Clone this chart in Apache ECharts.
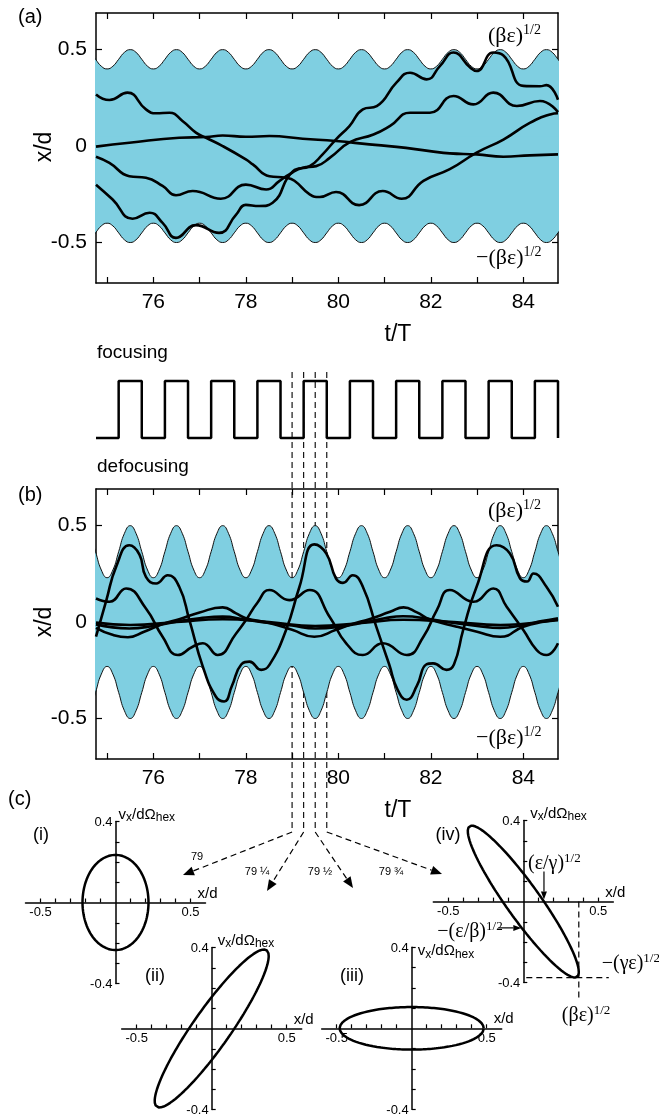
<!DOCTYPE html>
<html>
<head>
<meta charset="utf-8">
<script src="https://cdn.jsdelivr.net/npm/echarts@6.0.0/dist/echarts.min.js"></script>
<style>
  html, body { margin: 0; padding: 0; background: #fff; }
  #chart { width: 659px; height: 1119px; }
</style>
</head>
<body>
<div id="chart"></div>
<script>
// ---- time axis (t in units of the lattice period T) ----
const tMin = 74.76;
const tMax = 84.75;
const timeTicks = [75, 76, 77, 78, 79, 80, 81, 82, 83, 84];
const timeLabels = [76, 78, 80, 82, 84];
const xdTicks = [-0.5, -0.25, 0, 0.25, 0.5];
const xdLabels = [-0.5, 0, 0.5];

// beam envelope (βε)^1/2 over one lattice period, sampled every T/8 from a maximum (t = n + 1/2)
const envelopePeriodA = [0.5, 0.486, 0.45, 0.414, 0.4, 0.414, 0.45, 0.486];
const envelopePeriodB = [0.5, 0.46, 0.365, 0.27, 0.23, 0.27, 0.365, 0.46];

// (a) particle orbits, [t/T, x/d]
const orbitA1 = [[74.76,0.268],[75.05,0.239],[75.44,0.277],[75.84,0.19],[76.06,0.17],[76.35,0.173],[76.63,0.13],[76.92,0.07],[77.14,0.043],[77.5,0.0],[78.0,-0.069],[78.15,-0.095],[78.51,-0.156],[78.87,-0.164],[79.05,-0.18],[79.38,-0.25],[79.6,-0.264],[79.95,-0.238],[80.45,-0.306],[80.96,-0.233],[81.37,-0.273],[81.84,-0.18],[82.41,-0.12],[82.99,-0.034],[83.57,0.034],[84.14,0.12],[84.58,0.164],[84.75,0.17]];
const orbitA2 = [[74.76,-0.003],[75.48,0.017],[76.56,0.043],[77.14,0.047],[77.5,0.055],[78.0,0.048],[78.51,0.052],[79.23,0.038],[79.95,0.026],[80.67,0.009],[81.26,-0.004],[81.98,-0.026],[82.41,-0.038],[82.99,-0.043],[83.57,-0.055],[84.14,-0.048],[84.75,-0.043]];
const orbitA3 = [[74.76,-0.055],[75.05,-0.087],[75.48,-0.156],[75.84,-0.164],[76.2,-0.207],[76.49,-0.255],[76.85,-0.233],[77.46,-0.273],[78.0,-0.2],[78.44,-0.225],[78.73,-0.18],[78.94,-0.147],[79.23,-0.112],[79.52,-0.104],[79.82,-0.06],[80.25,0.02],[80.76,0.06],[81.12,0.105],[81.55,0.173],[81.98,0.173],[82.49,0.26],[82.92,0.216],[83.35,0.277],[83.86,0.208],[84.36,0.234],[84.75,0.176]];
const orbitA4 = [[74.76,-0.2],[75.12,-0.277],[75.55,-0.377],[75.92,-0.346],[76.2,-0.398],[76.49,-0.476],[76.92,-0.41],[77.42,-0.45],[77.79,-0.355],[78.0,-0.305],[78.29,-0.311],[78.58,-0.294],[79.02,-0.13],[79.38,-0.104],[79.66,-0.043],[79.95,0.035],[80.24,0.104],[80.53,0.19],[80.83,0.207],[81.26,0.33],[81.55,0.38],[81.91,0.346],[82.2,0.416],[82.49,0.485],[82.85,0.407],[82.99,0.389],[83.35,0.485],[83.57,0.47],[84.0,0.312],[84.36,0.31],[84.5,0.316],[84.75,0.24]];

// (b) particle orbits, [t/T, x/d]
const orbitB1 = [[74.76,-0.076],[74.98,0.11],[75.2,0.29],[75.48,0.398],[75.7,0.35],[75.84,0.234],[76.06,0.2],[76.31,0.243],[76.56,0.183],[76.78,0.01],[77.07,-0.231],[77.35,-0.386],[77.53,-0.412],[77.7,-0.33],[77.9,-0.22],[78.08,-0.205],[78.33,-0.248],[78.51,-0.222],[78.87,-0.041],[79.16,0.183],[79.48,0.403],[79.74,0.355],[79.95,0.226],[80.1,0.203],[80.31,0.243],[80.53,0.183],[80.82,-0.024],[81.1,-0.22],[81.28,-0.35],[81.48,-0.403],[81.7,-0.33],[81.9,-0.22],[82.05,-0.214],[82.34,-0.248],[82.5,-0.22],[82.7,-0.041],[82.99,0.183],[83.42,0.398],[83.71,0.355],[83.93,0.226],[84.08,0.21],[84.22,0.252],[84.5,0.183],[84.75,0.079]];
const orbitB2 = [[74.76,0.122],[75.05,0.105],[75.41,0.174],[75.84,0.07],[76.2,-0.076],[76.53,-0.171],[76.85,-0.128],[77.07,-0.11],[77.39,-0.171],[77.79,-0.059],[78.0,0.01],[78.25,0.1],[78.51,0.166],[78.94,0.114],[79.38,0.166],[79.81,0.028],[80.17,-0.11],[80.53,-0.171],[80.96,-0.11],[81.48,-0.171],[81.84,-0.076],[82.13,0.062],[82.41,0.166],[82.92,0.105],[83.35,0.174],[83.64,0.079],[84.0,-0.041],[84.29,-0.145],[84.5,-0.171],[84.75,-0.11]];
const orbitB3 = [[74.76,-0.03],[75.1,-0.065],[75.45,-0.079],[75.8,-0.05],[76.2,-0.01],[76.56,0.015],[77.0,0.05],[77.5,0.076],[77.79,0.045],[78.0,0.02],[78.51,-0.005],[79.0,-0.04],[79.48,-0.076],[79.95,-0.04],[80.3,-0.01],[80.67,0.015],[81.12,0.053],[81.41,0.076],[81.7,0.05],[81.98,0.014],[82.56,-0.024],[83.0,-0.05],[83.5,-0.076],[84.0,-0.024],[84.4,0.0],[84.75,0.01]];
const orbitB4 = [[74.76,-0.012],[75.48,-0.033],[76.0,-0.02],[76.56,0.005],[77.0,0.02],[77.5,0.028],[78.0,0.012],[78.5,-0.005],[79.0,-0.018],[79.5,-0.033],[80.0,-0.025],[80.6,0.0],[81.0,0.02],[81.4,0.03],[82.0,0.015],[82.5,-0.005],[83.0,-0.02],[83.5,-0.03],[84.0,-0.015],[84.4,0.005],[84.75,0.02]];
const orbitB5 = [[74.76,-0.003],[75.5,-0.015],[76.5,0.0],[77.5,0.015],[78.5,0.0],[79.5,-0.02],[80.5,-0.005],[81.4,0.012],[82.5,0.0],[83.5,-0.015],[84.75,0.015]];

// focusing phases of the quadrupole drive
const focusOn  = [75.25, 76.25, 77.25, 78.25, 79.25, 80.25, 81.25, 82.25, 83.25, 84.25];
const focusOff = [75.75, 76.75, 77.75, 78.75, 79.75, 80.75, 81.75, 82.75, 83.75, 84.75];

// phase-space snapshots (c): emittance ellipses x = X cos θ, v = V cos(θ − φ)
const snapshotTimes  = [79, 79.25, 79.5, 79.75];
const snapshotLabels = ['79', '79 ¼', '79 ½', '79 ¾'];
const panelNames     = ['(i)', '(ii)', '(iii)', '(iv)'];
const ellipseXMax  = [0.22, 0.38, 0.48, 0.37];
const ellipseVMax  = [0.235, 0.39, 0.105, 0.375];
const ellipsePhase = [1.571, 0.41, 1.571, 2.76];
const phaseXTicks  = [-0.5, -0.4, -0.3, -0.2, -0.1, 0.1, 0.2, 0.3, 0.4, 0.5];
const phaseYTicks  = [-0.4, -0.3, -0.2, -0.1, 0.1, 0.2, 0.3, 0.4];
const phaseXLabels = [-0.5, 0.5];
const phaseYLabels = [-0.4, 0.4];

const FONT = 'Liberation Sans';
const SERIF = 'Liberation Serif';
const FILL = '#7fcfe1';

function envelopePoints(profile, sign) {
  const pts = [];
  const t0 = Math.floor(tMin - 0.5) + 0.5;
  for (let k = 0; ; k++) {
    const t = t0 + k / profile.length;
    pts.push([t, sign * profile[k % profile.length]]);
    if (t > tMax + 0.2) break;
  }
  return pts;
}

function ellipsePoints(X, V, phi) {
  const pts = [];
  for (let k = 0; k <= 200; k++) {
    const th = 2 * Math.PI * k / 200;
    pts.push([X * Math.cos(th), V * Math.cos(th - phi)]);
  }
  return pts;
}

const drive = [[tMin, 0]];
focusOn.forEach((t, i) => { drive.push([t, 1]); drive.push([focusOff[i], 0]); });

const frame = { onZero: false, lineStyle: { color: '#000', width: 1.5 } };
const tickStyle = { color: '#000', width: 1.2 };

function timeAxis(gridIndex, position, labels) {
  return {
    type: 'value', gridIndex, position, min: tMin, max: tMax,
    axisLine: frame, splitLine: { show: false },
    axisTick: { inside: true, length: 6, customValues: timeTicks, lineStyle: tickStyle },
    axisLabel: labels ? { customValues: timeLabels, fontFamily: FONT, fontSize: 21, color: '#000', margin: 9 } : { show: false }
  };
}
function xdAxis(gridIndex, position, labels) {
  return {
    type: 'value', gridIndex, position, min: -0.71, max: 0.69,
    axisLine: frame, splitLine: { show: false },
    axisTick: { inside: true, length: 6, customValues: xdTicks, lineStyle: tickStyle },
    axisLabel: labels ? { customValues: xdLabels, formatter: v => (v === 0 ? '0' : String(v)),
      fontFamily: FONT, fontSize: 21, color: '#000', margin: 9 } : { show: false }
  };
}
function phaseX(gridIndex) {
  return {
    type: 'value', gridIndex, min: -0.6, max: 0.6,
    axisLine: { onZero: true, lineStyle: { color: '#000', width: 1.5 } }, splitLine: { show: false },
    axisTick: { inside: true, length: 4, customValues: phaseXTicks, lineStyle: tickStyle },
    axisLabel: { show: false }
  };
}
function phaseY(gridIndex) {
  return {
    type: 'value', gridIndex, min: -0.4, max: 0.4,
    axisLine: { onZero: true, lineStyle: { color: '#000', width: 1.5 } }, splitLine: { show: false },
    axisTick: { inside: true, length: 4, customValues: phaseYTicks, lineStyle: tickStyle },
    axisLabel: { show: false }
  };
}

const gridBox = (left, top, width, height) => ({ left, top, width, height, outerBoundsMode: 'none', containLabel: false });
const grids = [
  gridBox(96, 13, 462, 270),        // (a)
  gridBox(96, 381, 462, 57),        // focusing / defocusing drive
  gridBox(96, 489, 462, 270),       // (b)
  gridBox(25.5, 821.5, 180, 162),   // (i)
  gridBox(121.7, 947.5, 180, 162),  // (ii)
  gridBox(321.7, 947.3, 180, 162),  // (iii)
  gridBox(433.3, 820.6, 180, 162)   // (iv)
];

const xAxes = [
  timeAxis(0, 'bottom', true), timeAxis(0, 'top', false),
  { type: 'value', gridIndex: 1, min: tMin, max: tMax, show: false },
  timeAxis(2, 'bottom', true), timeAxis(2, 'top', false),
  phaseX(3), phaseX(4), phaseX(5), phaseX(6)
];
const yAxes = [
  xdAxis(0, 'left', true), xdAxis(0, 'right', false),
  { type: 'value', gridIndex: 1, min: 0, max: 1, show: false },
  xdAxis(2, 'left', true), xdAxis(2, 'right', false),
  phaseY(3), phaseY(4), phaseY(5), phaseY(6)
];

function envelopeSeries(axis, profile, sign) {
  return {
    type: 'line', xAxisIndex: axis, yAxisIndex: axis, data: envelopePoints(profile, sign),
    smooth: 0.5, symbol: 'none', z: 2, silent: true,
    lineStyle: { color: '#111', width: 1 },
    areaStyle: { color: FILL, opacity: 1, origin: -sign * 0.05 }
  };
}
function orbitSeries(axis, data) {
  return {
    type: 'line', xAxisIndex: axis, yAxisIndex: axis, data,
    smooth: 0.5, symbol: 'none', z: 4, silent: true,
    lineStyle: { color: '#000', width: 2.6 }
  };
}

const series = [
  envelopeSeries(0, envelopePeriodA, 1), envelopeSeries(0, envelopePeriodA, -1),
  ...[orbitA1, orbitA2, orbitA3, orbitA4].map(d => orbitSeries(0, d)),
  { type: 'line', xAxisIndex: 2, yAxisIndex: 2, data: drive, step: 'end', symbol: 'none', clip: false,
    lineStyle: { color: '#000', width: 2.5 }, z: 4 },
  envelopeSeries(3, envelopePeriodB, 1), envelopeSeries(3, envelopePeriodB, -1),
  ...[orbitB1, orbitB2, orbitB3, orbitB4, orbitB5].map(d => orbitSeries(3, d))
];
ellipseXMax.forEach((X, i) => {
  series.push({
    type: 'line', xAxisIndex: 5 + i, yAxisIndex: 5 + i,
    data: ellipsePoints(X, ellipseVMax[i], ellipsePhase[i]),
    symbol: 'none', clip: false, z: 4, lineStyle: { color: '#000', width: 2.5 }
  });
});
// guides at the ellipse extremes of (iv): x = (βε)^1/2 and v = −(γε)^1/2
series.push({
  type: 'line', xAxisIndex: 8, yAxisIndex: 8, symbol: 'none', clip: false, z: 3,
  data: [[ellipseXMax[3], 0], [ellipseXMax[3], -0.49]],
  lineStyle: { color: '#000', width: 1.2, type: [6, 4] }
});
series.push({
  type: 'line', xAxisIndex: 8, yAxisIndex: 8, symbol: 'none', clip: false, z: 3,
  data: [[0.02, -ellipseVMax[3]], [0.57, -ellipseVMax[3]]],
  lineStyle: { color: '#000', width: 1.2, type: [6, 4] }
});

const chart = echarts.init(document.getElementById('chart'), null, { renderer: 'canvas', width: 659, height: 1119 });
chart.setOption({
  animation: false,
  backgroundColor: '#fff',
  textStyle: { fontFamily: FONT },
  grid: grids, xAxis: xAxes, yAxis: yAxes, series
});

// ---- annotations ----
const px = (i, pt) => chart.convertToPixel({ xAxisIndex: i, yAxisIndex: i }, pt);

function text(x, y, str, size, align, family) {
  return { type: 'text', z: 100, silent: true,
    style: { x, y, text: str, fill: '#000', font: `${size}px "${family || FONT}"`,
      textAlign: align || 'left', align: align || 'left', textVerticalAlign: 'middle', verticalAlign: 'middle' } };
}
// serif label with a "1/2" exponent
function halfPower(x, y, main, size) {
  return { type: 'text', z: 100, silent: true,
    style: { x, y, text: `{m|${main}}{s|1/2}`, fill: '#000',
      textAlign: 'left', align: 'left', textVerticalAlign: 'middle', verticalAlign: 'middle',
      rich: {
        m: { fontFamily: SERIF, fontSize: size, lineHeight: Math.round(size * 1.15), fill: '#000' },
        s: { fontFamily: SERIF, fontSize: Math.round(size * 0.64), lineHeight: Math.round(size * 0.7), verticalAlign: 'top', fill: '#000' }
      } } };
}
function velocityName(x, y) {
  return { type: 'text', z: 100, silent: true,
    style: { x, y, text: '{m|v}{b|x}{m|/dΩ}{b|hex}', fill: '#000',
      textAlign: 'left', align: 'left', textVerticalAlign: 'middle', verticalAlign: 'middle',
      rich: {
        m: { fontFamily: FONT, fontSize: 15, lineHeight: 19, fill: '#000' },
        b: { fontFamily: FONT, fontSize: 12, lineHeight: 13, verticalAlign: 'bottom', fill: '#000' }
      } } };
}
function arrow(x1, y1, x2, y2, dash, len, half) {
  const dx = x2 - x1, dy = y2 - y1, L = Math.hypot(dx, dy), ux = dx / L, uy = dy / L;
  const bx = x2 - ux * len, by = y2 - uy * len;
  return [
    { type: 'line', z: 1, silent: true, shape: { x1, y1, x2: bx, y2: by },
      style: { stroke: '#000', lineWidth: 1.2, lineDash: dash || null } },
    { type: 'polygon', z: 1, silent: true,
      shape: { points: [[x2, y2], [bx - uy * half, by + ux * half], [bx + uy * half, by - ux * half]] },
      style: { fill: '#000' } }
  ];
}

const g = [];
g.push(text(18, 17, '(a)', 20));
g.push(text(18, 495, '(b)', 20));
g.push(text(8, 799, '(c)', 20));
[147, 622].forEach(y => g.push({ type: 'text', z: 100, x: 45, y, rotation: Math.PI / 2, silent: true,
  style: { x: 0, y: 0, text: 'x/d', fill: '#000', font: `23px "${FONT}"`, textAlign: 'center', align: 'center',
    textVerticalAlign: 'middle', verticalAlign: 'middle' } }));
g.push(text(398, 335, 't/T', 23, 'center'));
g.push(text(398, 811, 't/T', 23, 'center'));
g.push(text(97, 353, 'focusing', 19));
g.push(text(97, 467, 'defocusing', 19));
[[36, 258], [511, 738]].forEach(([top, bottom]) => {
  g.push(halfPower(488, top, '(βε)', 22));
  g.push(halfPower(476, bottom, '−(βε)', 22));
});

// sampling times carried down from (b) to the phase-space snapshots
const leaderTop = 372, leaderBottom = 832;
const arrowTips = [[183, 875], [267, 891], [353, 888], [442, 874]];
const labelPos  = [[197, 857], [257, 872], [320, 872], [391, 872]];
snapshotTimes.forEach((t, i) => {
  const x = px(3, [t, 0])[0];
  g.push({ type: 'line', z: 1, silent: true, shape: { x1: x, y1: leaderTop, x2: x, y2: leaderBottom },
    style: { stroke: '#000', lineWidth: 1.1, lineDash: [6, 4] } });
  g.push(...arrow(x, leaderBottom, arrowTips[i][0], arrowTips[i][1], [6, 4], 11, 4.5));
  g.push(text(labelPos[i][0], labelPos[i][1], snapshotLabels[i], 11, 'center'));
});

// phase-space panels: titles, tick labels, axis names
const panelPos = [[41, 835], [155, 976], [352, 976], [448, 835]];
const vNameOffset = [[3, -7], [6, -7], [6, 4], [7, -7]];
panelNames.forEach((name, i) => {
  const ax = 5 + i;
  g.push(text(panelPos[i][0], panelPos[i][1], name, 18, 'center'));
  phaseXLabels.forEach(v => {
    const p = px(ax, [v, 0]);
    g.push(text(p[0], p[1] + 10, String(v), 13, 'center'));
  });
  phaseYLabels.forEach(v => {
    const p = px(ax, [0, v]);
    g.push(text(p[0] - 3, p[1] + 1, String(v), 13, 'right'));
  });
  const top = px(ax, [0, 0.4]);
  g.push(velocityName(top[0] + vNameOffset[i][0], top[1] + vNameOffset[i][1]));
  const end = px(ax, [0.6, 0]);
  g.push(text(end[0] + 2, end[1] - 9, 'x/d', 15, 'center'));
});

// (iv) Twiss annotations
const sinPhi = Math.abs(Math.sin(ellipsePhase[3]));
const xInt = px(8, [ellipseXMax[3] * sinPhi, 0]);
const vInt = px(8, [0, -ellipseVMax[3] * sinPhi]);
const corner = px(8, [ellipseXMax[3], -ellipseVMax[3]]);
g.push(...arrow(xInt[0], xInt[1] - 30, xInt[0], xInt[1] - 2, null, 8, 3));
g.push(halfPower(xInt[0] - 16, xInt[1] - 38, '(ε/γ)', 20));
g.push(...arrow(vInt[0] - 25, vInt[1] - 2, vInt[0] - 2, vInt[1] - 2, null, 8, 3));
g.push(halfPower(vInt[0] - 86, vInt[1] + 2, '−(ε/β)', 20));
g.push(halfPower(corner[0] + 23, corner[1] - 14, '−(γε)', 20));
g.push(halfPower(corner[0] - 17, corner[1] + 38, '(βε)', 20));

chart.setOption({ graphic: { elements: g } });
</script>
</body>
</html>
